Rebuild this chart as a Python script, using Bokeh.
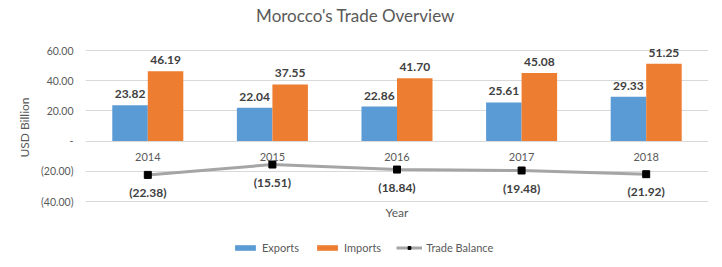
from bokeh.plotting import figure
from bokeh.models import (ColumnDataSource, FactorRange, Range1d, FixedTicker,
                          CustomJSTickFormatter, Legend, LegendItem, Label)
from bokeh.transform import dodge
from bokeh.embed import file_html
from bokeh.resources import INLINE
from bokeh.core.properties import value

# ---- data ----
years = ["2014", "2015", "2016", "2017", "2018"]
exports = [23.82, 22.04, 22.86, 25.61, 29.33]
imports = [46.19, 37.55, 41.70, 45.08, 51.25]
balance = [-22.38, -15.51, -18.84, -19.48, -21.92]
y_ticks = [-40, -20, 0, 20, 40, 60]

title_text = "Morocco's Trade Overview"
y_title = "USD Billion"
x_title = "Year"


def fmt(v):
    return f"({abs(v):.2f})" if v < 0 else f"{v:.2f}"


src = ColumnDataSource(dict(
    year=years, exports=exports, imports=imports, balance=balance,
    exp_lbl=[fmt(v) for v in exports],
    imp_lbl=[fmt(v) for v in imports],
    bal_lbl=[fmt(v) for v in balance],
))

FONT = "Lato"
GRAY = "#595959"
DARK = "#404040"

# ---- layout geometry (pixels) ----
W, H = 722, 267
GRID_TOP, GRID_BOTTOM = 50, 201     # pixel rows of top / bottom gridline
FRAME_BOTTOM = 254                  # frame spans 0..FRAME_BOTTOM (holds title/legend too)
px_per_unit = (GRID_BOTTOM - GRID_TOP) / (y_ticks[-1] - y_ticks[0])
y_end = y_ticks[-1] + GRID_TOP / px_per_unit
y_start = y_ticks[0] - (FRAME_BOTTOM - GRID_BOTTOM) / px_per_unit

p = figure(x_range=FactorRange(*years), y_range=Range1d(y_start, y_end),
           width=W, height=H, output_backend="svg", toolbar_location=None,
           min_border_left=85, min_border_right=14, min_border_top=0,
           min_border_bottom=H - FRAME_BOTTOM)
p.outline_line_color = None
p.background_fill_color = "white"

# grid
p.xgrid.grid_line_color = None
p.ygrid.grid_line_color = "#D9D9D9"
p.ygrid.grid_line_width = 1

# y axis
p.yaxis.ticker = FixedTicker(ticks=y_ticks)
p.yaxis.bounds = (y_ticks[0], y_ticks[-1])
p.yaxis.formatter = CustomJSTickFormatter(code="""
if (tick == 0) return "-";
if (tick < 0) return "(" + Math.abs(tick).toFixed(2) + ")";
return tick.toFixed(2);
""")
p.yaxis.axis_line_color = None
p.yaxis.major_tick_line_color = None
p.yaxis.minor_tick_line_color = None
p.yaxis.major_tick_out = 0
p.yaxis.minor_tick_out = 0
p.yaxis.major_label_standoff = 12
p.yaxis.major_label_text_font = FONT
p.yaxis.major_label_text_font_size = "10.5px"
p.yaxis.major_label_text_color = GRAY
p.yaxis.axis_label = y_title
p.yaxis.axis_label_text_font = FONT
p.yaxis.axis_label_text_font_style = "normal"
p.yaxis.axis_label_text_font_size = "12px"
p.yaxis.axis_label_text_color = GRAY
p.yaxis.axis_label_standoff = 6

# x axis at zero
p.xaxis.fixed_location = 0
p.xaxis.axis_line_color = None
p.xaxis.major_tick_line_color = None
p.xaxis.minor_tick_line_color = None
p.xaxis.major_tick_out = 0
p.xaxis.minor_tick_out = 0
p.xaxis.major_label_standoff = 12
p.xaxis.major_label_text_font = FONT
p.xaxis.major_label_text_font_size = "11px"
p.xaxis.major_label_text_color = GRAY

BW = 0.285
r_exp = p.vbar(x=dodge("year", -BW / 2, range=p.x_range), top="exports", width=BW,
               source=src, fill_color="#5B9BD5", line_color=None)
r_imp = p.vbar(x=dodge("year", BW / 2, range=p.x_range), top="imports", width=BW,
               source=src, fill_color="#ED7D31", line_color=None)

r_line = p.line(x="year", y="balance", source=src, line_color="#A5A5A5", line_width=3)
r_pts = p.scatter(x="year", y="balance", source=src, marker="square", size=7,
                  fill_color="black", line_color="black")

# data labels
common = dict(text_font=value(FONT), text_font_style="bold", text_font_size="12px",
              text_color=DARK, text_align="center", source=src)
p.text(x=dodge("year", -BW / 2, range=p.x_range), y="exports", text="exp_lbl",
       text_baseline="bottom", y_offset=-7, **common)
p.text(x=dodge("year", BW / 2, range=p.x_range), y="imports", text="imp_lbl",
       text_baseline="bottom", y_offset=-7, **common)
p.text(x="year", y="balance", text="bal_lbl", text_baseline="top", y_offset=10, **common)

# chart title
p.add_layout(Label(x=270, y=FRAME_BOTTOM - 15, x_units="screen", y_units="screen",
                   text=title_text, text_align="center", text_baseline="middle",
                   text_font=FONT, text_font_size="17px", text_color=GRAY))

# x axis title
p.add_layout(Label(x=311.5, y=FRAME_BOTTOM - 212, x_units="screen", y_units="screen",
                   text=x_title, text_align="center", text_baseline="middle",
                   text_font=FONT, text_font_size="12px", text_color=GRAY))

legend = Legend(items=[
    LegendItem(label="Exports", renderers=[r_exp]),
    LegendItem(label="Imports", renderers=[r_imp]),
    LegendItem(label="Trade Balance", renderers=[r_line, r_pts]),
], orientation="horizontal", location=(147, 0))
legend.border_line_color = None
legend.background_fill_alpha = 0
legend.padding = 0
legend.margin = 0
legend.spacing = 15
legend.label_standoff = 4
legend.glyph_width = 26
legend.glyph_height = 7
legend.label_height = 14
legend.label_text_font = FONT
legend.label_text_font_size = "11px"
legend.label_text_color = GRAY
p.add_layout(legend, "center")

open("out.html", "w").write(file_html(p, INLINE))
